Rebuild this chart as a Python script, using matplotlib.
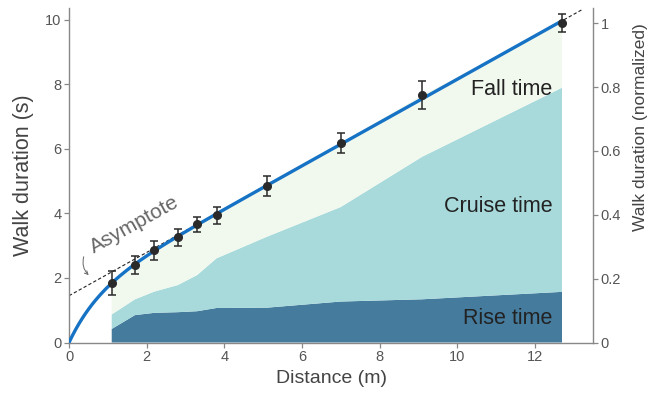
import numpy as np
import matplotlib
matplotlib.use("Agg")
import matplotlib.pyplot as plt

plt.rcParams['font.family'] = ['Liberation Sans', 'DejaVu Sans']

# measured walk durations per distance
distance = [1.1, 1.7, 2.2, 2.8, 3.3, 3.8, 5.1, 7.0, 9.1, 12.7]
duration = [1.84, 2.40, 2.86, 3.26, 3.66, 3.94, 4.85, 6.18, 7.67, 9.90]
duration_err = [0.38, 0.28, 0.29, 0.26, 0.24, 0.27, 0.32, 0.32, 0.44, 0.28]

# phase breakdown (stacked)
rise_time = [0.42, 0.85, 0.92, 0.94, 0.97, 1.07, 1.08, 1.27, 1.34, 1.57]
cruise_time = [0.45, 0.49, 0.66, 0.84, 1.12, 1.54, 2.20, 2.93, 4.42, 6.33]
fall_time = [0.97, 1.06, 1.28, 1.48, 1.57, 1.33, 1.57, 1.98, 1.91, 2.00]
phase_labels = ["Rise time", "Cruise time", "Fall time"]
phase_label_y = [0.74, 4.23, 7.83]

# fitted model: T = slope*d + t0*(1 - exp(-d/lam)); asymptote slope*d + t0
slope = 0.671
t0 = 1.45
lam = 0.77

c_rise = '#457b9d'
c_cruise = '#a8dadc'
c_fall = '#f1f8ee'
c_line = '#1572c4'
c_axis = '#888888'
c_text = '#555555'

fig = plt.figure(figsize=(6.48, 3.94), dpi=100)
ax = fig.add_axes([0.1065, 0.1307, 0.8087, 0.849])

ax.stackplot(distance, rise_time, cruise_time, fall_time,
             colors=[c_rise, c_cruise, c_fall], linewidth=0)

d_fit = np.linspace(0, distance[-1], 300)
ax.plot(d_fit, slope * d_fit + t0 * (1 - np.exp(-d_fit / lam)),
        color=c_line, lw=2.4, zorder=3)

d_asym = np.array([0, 13.2])
ax.plot(d_asym, slope * d_asym + t0, color='#222222', lw=0.8,
        dashes=(3, 2), zorder=2)

ax.errorbar(distance, duration, yerr=duration_err, fmt='o', color='#2a2a2a',
            ms=5.5, capsize=2.8, elinewidth=1.1, capthick=1.1, zorder=4)

for lab, yy in zip(phase_labels, phase_label_y):
    ax.text(12.45, yy, lab, ha='right', va='center', fontsize=15.5,
            color='#222222', zorder=5)

ax.text(1.68, 3.64, "Asymptote", rotation=29, rotation_mode='anchor',
        ha='center', va='center', fontsize=15, color='#666666')
ax.annotate("", xy=(0.56, 2.03), xytext=(0.4, 2.74),
            arrowprops=dict(arrowstyle='->', color='#666666', lw=0.7,
                            connectionstyle='arc3,rad=0.35',
                            mutation_scale=6))

ax.set_xlim(0, 13.5)
ax.set_ylim(0, 10.37)
ax.set_xticks([0, 2, 4, 6, 8, 10, 12])
ax.set_yticks([0, 2, 4, 6, 8, 10])
ax.set_xlabel("Distance (m)", fontsize=14, color='#444444', labelpad=4)
ax.set_ylabel("Walk duration (s)", fontsize=15.5, color='#444444', labelpad=8)

ax2 = ax.twinx()
ax2.set_ylim(0, 10.37 / 9.9)
ax2.set_yticks([0, 0.2, 0.4, 0.6, 0.8, 1.0])
ax2.set_yticklabels(["0", "0.2", "0.4", "0.6", "0.8", "1"])
ax2.set_ylabel("Walk duration (normalized)", fontsize=12.5, color='#444444')
ax2.yaxis.set_label_coords(1.077, 0.645)

for a in (ax, ax2):
    a.spines['top'].set_visible(False)
    for s in ('left', 'right', 'bottom'):
        a.spines[s].set_color(c_axis)
        a.spines[s].set_linewidth(1.0)
    a.tick_params(direction='out', length=3.5, width=0.9, color=c_axis,
                  labelcolor=c_text, labelsize=10.5, pad=2)
ax.spines['right'].set_visible(False)
ax2.spines['left'].set_visible(False)
ax2.spines['bottom'].set_visible(False)

fig.savefig("out.png", dpi=100)
